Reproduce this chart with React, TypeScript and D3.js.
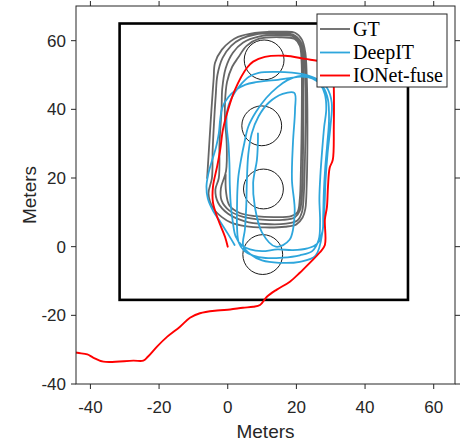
import React from "react";
import * as d3 from "d3";

type Pt = [number, number];

// Ground-truth trajectory: several laps around the pillars
const gtPath: Pt[] = [
  // lap 1 (outer)
  [-6.0, 20.0], [-5.5, 28.0], [-5.0, 36.0], [-4.6, 42.0], [-4.1, 49.0], [-3.7, 53.6], [-1.7, 57.4], [0.8, 59.8],
  [3.0, 61.1], [7.9, 62.3], [12.0, 62.6], [15.8, 62.6], [19.6, 62.3], [21.6, 60.3], [22.6, 56.5], [23.0, 50.0],
  [23.2, 40.0], [23.2, 28.8], [23.0, 18.0], [22.6, 11.0], [21.8, 8.5], [20.0, 6.5], [16.7, 5.8], [10.8, 5.6],
  [5.0, 6.0], [1.0, 7.0], [-1.7, 8.6], [-4.3, 11.3], [-5.6, 15.5],
  // lap 2
  [-4.6, 20.0], [-4.4, 28.0], [-4.0, 36.0], [-3.5, 44.0], [-3.0, 50.0], [-1.5, 55.0], [1.0, 58.5], [4.0, 60.6],
  [8.0, 61.8], [14.0, 62.1], [19.0, 61.8], [21.2, 59.8], [22.2, 56.0], [22.6, 48.0], [22.7, 38.0], [22.5, 26.0],
  [22.2, 16.0], [21.6, 10.0], [20.3, 7.6], [17.0, 6.7], [10.8, 6.6], [5.0, 7.4], [0.1, 9.6], [-2.8, 12.8],
  [-3.6, 16.6],
  // lap 3
  [-2.6, 20.0], [-2.4, 30.0], [-1.8, 40.0], [-1.6, 46.0], [-0.6, 52.0], [1.5, 56.5], [4.5, 59.5], [9.0, 61.2],
  [15.0, 61.6], [19.2, 61.2], [20.9, 59.3], [21.8, 55.0], [22.0, 45.0], [22.0, 35.0], [21.9, 25.0], [21.6, 15.0],
  [21.0, 10.5], [19.5, 8.5], [16.0, 7.8], [10.0, 7.9], [4.5, 8.7], [0.5, 10.5], [-1.8, 13.5], [-2.0, 17.0],
  // lap 4 (inner)
  [-0.5, 22.0], [-0.3, 30.0], [-0.8, 37.0], [-0.8, 42.0], [-0.2, 48.0], [1.3, 52.4], [3.0, 55.0], [5.5, 58.5],
  [9.0, 60.5], [15.0, 61.0], [19.5, 60.5], [21.0, 58.5], [21.5, 54.0], [21.6, 45.0], [21.5, 33.0], [21.3, 22.0],
  [21.0, 14.0], [20.3, 10.0], [18.5, 8.9], [14.0, 8.6], [8.0, 8.9], [3.5, 9.8], [0.5, 12.0], [-0.5, 16.0],
  [-0.6, 21.0],
];

// DeepIT estimate
const deepItPath: Pt[] = [
  [2.0, 0.5], [0.2, 3.5], [-2.0, 7.0], [-4.2, 10.3], [-5.8, 14.0], [-6.2, 17.5], [-5.7, 21.0], [-4.6, 25.0],
  [-3.4, 29.0], [-2.6, 33.0], [-2.2, 37.0], [-1.6, 40.5], [0.2, 43.6], [2.3, 45.6], [5.2, 47.2], [8.2, 47.9],
  [11.2, 48.3], [14.6, 48.6], [18.0, 49.1], [21.6, 49.5], [24.6, 49.0], [26.9, 47.3], [28.3, 44.4], [28.7, 40.0],
  [28.1, 35.0], [27.5, 28.0], [27.0, 21.0], [26.7, 14.0], [26.9, 7.0], [26.5, 2.0], [24.6, -1.3], [21.0, -2.5],
  [16.0, -3.2], [11.0, -3.3], [7.4, -2.6], [4.8, -1.2], [3.2, 1.2],
  [2.7, 5.8], [2.7, 10.8], [2.8, 16.0], [3.1, 20.5], [3.9, 25.5], [4.9, 30.5], [6.0, 35.0], [8.2, 39.2],
  [11.2, 43.3], [14.4, 46.4], [17.4, 48.5], [20.4, 49.6], [23.2, 49.7], [25.6, 48.6], [27.8, 46.5], [29.2, 42.8],
  [29.5, 37.0], [29.0, 30.0], [28.4, 23.0], [28.0, 16.0], [27.8, 9.0], [27.6, 4.5], [26.0, 0.8], [23.2, -0.5],
  [19.0, -1.0], [14.5, -0.8], [10.0, -1.3], [6.5, -0.8], [4.0, 0.5], [2.3, 3.0],
  [1.5, 7.0], [0.9, 12.0], [0.6, 18.0], [0.5, 24.0], [0.2, 30.0], [-0.3, 35.0], [-0.2, 39.5], [1.2, 43.5],
  [3.6, 47.0], [6.2, 49.5], [9.0, 50.6], [13.8, 50.9], [18.7, 50.7], [22.5, 50.1], [26.3, 48.6], [28.9, 46.3],
  [30.3, 41.9], [29.9, 34.9], [29.1, 27.4], [28.5, 19.5], [28.2, 12.0], [27.7, 5.0], [25.6, -2.6], [21.0, -4.4],
  [15.0, -4.7], [10.0, -4.0], [6.6, -2.2], [4.5, 0.3],
  [5.0, 5.0], [5.4, 12.0], [5.6, 20.0], [6.0, 27.0], [7.0, 33.0], [9.0, 38.0], [12.0, 42.0], [16.0, 44.5],
  [19.4, 44.8], [19.6, 39.9], [19.0, 30.3], [18.7, 19.5], [19.5, 10.0], [18.0, 2.0], [14.0, 0.0], [10.0, 4.1],
  [7.9, 11.6], [7.4, 18.6], [8.5, 25.3], [8.8, 31.1], [8.8, 33.0],
];

// IONet-fuse estimate
const ionetPath: Pt[] = [
  [0.0, 0.0], [-0.8, 2.9], [-2.8, 7.9], [-4.3, 12.8], [-4.3, 17.5], [-3.1, 23.3], [-2.2, 28.2], [-1.4, 34.1],
  [0.1, 39.9], [2.1, 45.7], [5.6, 52.1], [7.4, 53.9], [10.8, 55.3], [16.7, 55.6], [22.5, 54.7], [27.4, 53.9],
  [30.6, 53.0], [30.9, 46.3], [30.9, 35.0], [30.6, 25.3], [29.7, 23.0], [29.2, 17.5], [28.9, 11.6], [28.3, 7.9],
  [28.3, 0.5], [26.8, -1.7], [23.9, -4.7], [21.0, -7.6], [18.1, -10.2], [14.3, -12.5], [11.4, -14.6], [9.4, -17.0],
  [7.4, -17.5], [4.4, -17.8], [0.7, -18.3], [-3.1, -18.6], [-8.1, -19.4], [-11.0, -20.7], [-13.9, -23.3],
  [-17.6, -26.2], [-20.6, -29.1], [-23.2, -32.0], [-24.6, -33.2], [-27.5, -33.2], [-36.2, -33.5], [-39.2, -32.3],
  [-40.9, -31.4], [-43.8, -30.9], [-46.0, -30.4],
];

// Pillars (centre x, centre y) and their radius
const pillarCentres: Pt[] = [[10.6, 54.4], [9.9, 35.2], [10.4, 16.8], [10.2, -2.3]];
const pillarRadius = 5.8;

// Outer building boundary: [xMin, yMin, xMax, yMax]
const boundary = [-31.5, -15.5, 52.5, 65.0];

const xTicks = [-40, -20, 0, 20, 40, 60];
const yTicks = [-40, -20, 0, 20, 40, 60];

const seriesNames = ["GT", "DeepIT", "IONet-fuse"];
const seriesColors = ["#666666", "#2ea6dc", "#ff0000"];

const W = 469;
const H = 443;
const left = 76;
const right = 455;
const top = 6;
const bottom = 384;
const axisColor = "#262626";
const tickFont = "'Liberation Sans', Arial, Helvetica, sans-serif";

export default function App() {
  const x = d3.scaleLinear().domain([-44.2, 66.2]).range([left, right]);
  const y = d3.scaleLinear().domain([-40, 70.1]).range([bottom, top]);

  const line = d3
    .line<Pt>()
    .x((d) => x(d[0]))
    .y((d) => y(d[1]))
    .curve(d3.curveCatmullRom.alpha(0.5));

  const paths = [gtPath, deepItPath, ionetPath];
  const widths = [1.8, 1.8, 1.9];
  const rx = x(pillarRadius) - x(0);
  const ry = y(0) - y(pillarRadius);

  const legend = { x0: 317, y0: 14, x1: 447, y1: 87 };
  const rowY = [29, 52.5, 75.5];

  return (
    <svg width={W} height={H} style={{ position: "absolute", left: 0, top: 0, background: "#fff" }}>
      <defs>
        <clipPath id="plot-area">
          <rect x={left} y={top} width={right - left} height={bottom - top} />
        </clipPath>
      </defs>
      <rect x={0} y={0} width={W} height={H} fill="#fff" />

      <g clipPath="url(#plot-area)">
        <rect
          x={x(boundary[0])}
          y={y(boundary[3])}
          width={x(boundary[2]) - x(boundary[0])}
          height={y(boundary[1]) - y(boundary[3])}
          fill="none"
          stroke="#000"
          strokeWidth={2.6}
        />
        {pillarCentres.map((c, i) => (
          <ellipse key={i} cx={x(c[0])} cy={y(c[1])} rx={rx} ry={ry} fill="none" stroke="#1a1a1a" strokeWidth={1} />
        ))}
        {paths.map((p, i) => (
          <path
            key={i}
            d={line(p) ?? ""}
            fill="none"
            stroke={seriesColors[i]}
            strokeWidth={widths[i]}
            strokeLinejoin="round"
            strokeLinecap="round"
          />
        ))}
      </g>

      {/* axes box */}
      <rect x={left} y={top} width={right - left} height={bottom - top} fill="none" stroke={axisColor} strokeWidth={1} />
      {xTicks.map((t) => (
        <g key={"x" + t}>
          <line x1={x(t)} x2={x(t)} y1={bottom} y2={bottom + 5} stroke={axisColor} />
          <line x1={x(t)} x2={x(t)} y1={top} y2={top - 5} stroke={axisColor} />
          <text x={x(t)} y={413} textAnchor="middle" fontFamily={tickFont} fontSize={17} fill={axisColor}>
            {t}
          </text>
        </g>
      ))}
      {yTicks.map((t) => (
        <g key={"y" + t}>
          <line x1={left - 5} x2={left} y1={y(t)} y2={y(t)} stroke={axisColor} />
          <line x1={right} x2={right + 5} y1={y(t)} y2={y(t)} stroke={axisColor} />
          <text x={66} y={y(t) + 6} textAnchor="end" fontFamily={tickFont} fontSize={17} fill={axisColor}>
            {t}
          </text>
        </g>
      ))}
      <text x={(left + right) / 2} y={438} textAnchor="middle" fontFamily={tickFont} fontSize={19} fill={axisColor}>
        Meters
      </text>
      <text
        transform={`translate(36, ${(top + bottom) / 2}) rotate(-90)`}
        textAnchor="middle"
        fontFamily={tickFont}
        fontSize={19}
        fill={axisColor}
      >
        Meters
      </text>

      {/* legend */}
      <rect
        x={legend.x0}
        y={legend.y0}
        width={legend.x1 - legend.x0}
        height={legend.y1 - legend.y0}
        fill="#fff"
        stroke={axisColor}
        strokeWidth={1}
      />
      {seriesNames.map((n, i) => (
        <g key={n}>
          <line x1={320} x2={350} y1={rowY[i]} y2={rowY[i]} stroke={seriesColors[i]} strokeWidth={widths[i]} />
          <text x={353} y={rowY[i] + 6.5} fontFamily="'Liberation Serif', 'Times New Roman', serif" fontSize={20} fill="#000">
            {n}
          </text>
        </g>
      ))}
    </svg>
  );
}
